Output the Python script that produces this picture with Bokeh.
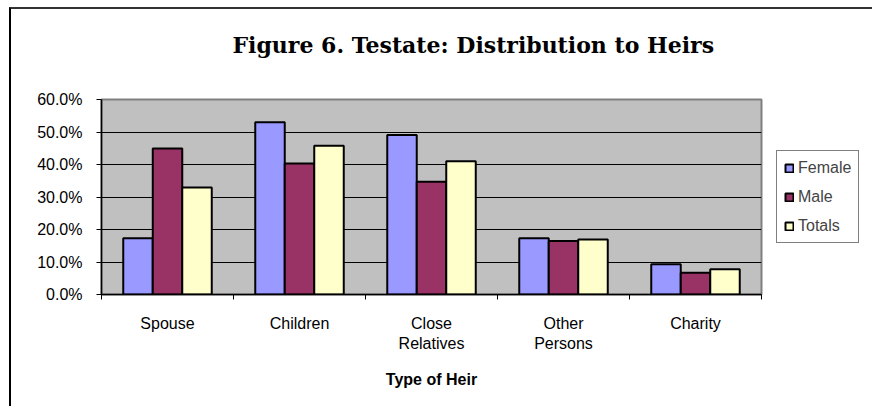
from bokeh.plotting import figure
from bokeh.models import (ColumnDataSource, FixedTicker, NumeralTickFormatter, Legend,
                          LegendItem, Title, Range1d)
from bokeh.transform import dodge
from bokeh.embed import file_html
from bokeh.resources import INLINE

# ---- data ----
categories = ["Spouse", "Children", "Close\nRelatives", "Other\nPersons", "Charity"]
female = [0.173, 0.530, 0.491, 0.173, 0.093]
male = [0.449, 0.403, 0.347, 0.165, 0.067]
totals = [0.329, 0.458, 0.410, 0.169, 0.078]
series_names = ["Female", "Male", "Totals"]
series_colors = ["#9999FF", "#993366", "#FFFFCC"]
y_ticks = [0.0, 0.1, 0.2, 0.3, 0.4, 0.5, 0.6]

n = len(categories)
centers = [i + 0.5 for i in range(n)]
bar_w = 0.2235

p = figure(frame_width=660, frame_height=195, min_border_left=90, min_border_right=100,
           min_border_top=90, min_border_bottom=112, output_backend="svg",
           toolbar_location=None, x_range=Range1d(0, n), y_range=Range1d(0, 0.6))
p.margin = (7, 0, 0, 9)
p.styles = {"border-left": "2px solid #000000", "border-top": "2px solid #333333"}
p.background_fill_color = "#C0C0C0"
p.border_fill_color = "white"
p.outline_line_color = "#808080"
p.outline_line_width = 2

src = ColumnDataSource(dict(x=centers, female=female, male=male, totals=totals))
renderers = []
for k, (col, color) in enumerate(zip(["female", "male", "totals"], series_colors)):
    r = p.vbar(x=dodge("x", (k - 1) * bar_w), top=col, width=bar_w, source=src,
               fill_color=color, line_color="black", line_width=2)
    renderers.append(r)

# axes
p.xaxis.ticker = FixedTicker(ticks=centers, minor_ticks=list(range(n + 1)))
p.xaxis.major_label_overrides = {c: lab for c, lab in zip(centers, categories)}
p.xaxis.major_tick_out = 0
p.xaxis.major_tick_in = 0
p.xaxis.minor_tick_out = 5
p.xaxis.minor_tick_in = 0
p.xaxis.minor_tick_line_color = "black"
p.xaxis.axis_line_color = "black"
p.xaxis.axis_line_width = 1.5
p.xaxis.major_label_standoff = 15
p.xaxis.major_label_text_font = "Liberation Sans"
p.xaxis.major_label_text_font_size = "16px"
p.xaxis.major_label_text_color = "black"
p.xaxis.axis_label = "Type of Heir"
p.xaxis.axis_label_text_font = "Liberation Sans"
p.xaxis.axis_label_text_font_size = "16px"
p.xaxis.axis_label_text_font_style = "bold"
p.xaxis.axis_label_text_color = "black"
p.xaxis.axis_label_standoff = 16

p.yaxis.ticker = FixedTicker(ticks=y_ticks)
p.yaxis.formatter = NumeralTickFormatter(format="0.0%")
p.yaxis.major_tick_out = 5
p.yaxis.major_tick_in = 0
p.yaxis.minor_tick_line_color = None
p.yaxis.axis_line_color = "black"
p.yaxis.axis_line_width = 1.5
p.yaxis.major_label_standoff = 14
p.yaxis.major_label_text_font = "Liberation Sans"
p.yaxis.major_label_text_font_size = "16px"
p.yaxis.major_label_text_color = "black"

p.xgrid.grid_line_color = None
p.ygrid.ticker = FixedTicker(ticks=y_ticks[1:-1])
p.ygrid.grid_line_color = "black"
p.ygrid.grid_line_width = 1

# spacer between frame and title, then the title itself (stacked further out)
spacer = Title(text=" ", text_font_size="10px", standoff=29, text_color="white")
p.add_layout(spacer, "above")
title = Title(text="Figure 6. Testate: Distribution to Heirs", align="left", offset=131,
              standoff=0, text_font="DejaVu Serif", text_font_style="bold",
              text_font_size="22px", text_color="black")
p.add_layout(title, "above")

# legend
legend = Legend(items=[LegendItem(label=nm, renderers=[r]) for nm, r in zip(series_names, renderers)],
                location=(15, 51), margin=0, padding=7, spacing=10,
                label_text_font="Liberation Sans", label_text_font_size="16px",
                label_height=19, glyph_width=10, glyph_height=10, label_standoff=4,
                border_line_color="black", border_line_width=1, background_fill_color="white")
p.add_layout(legend, "right")

open("out.html", "w").write(file_html(p, INLINE))
